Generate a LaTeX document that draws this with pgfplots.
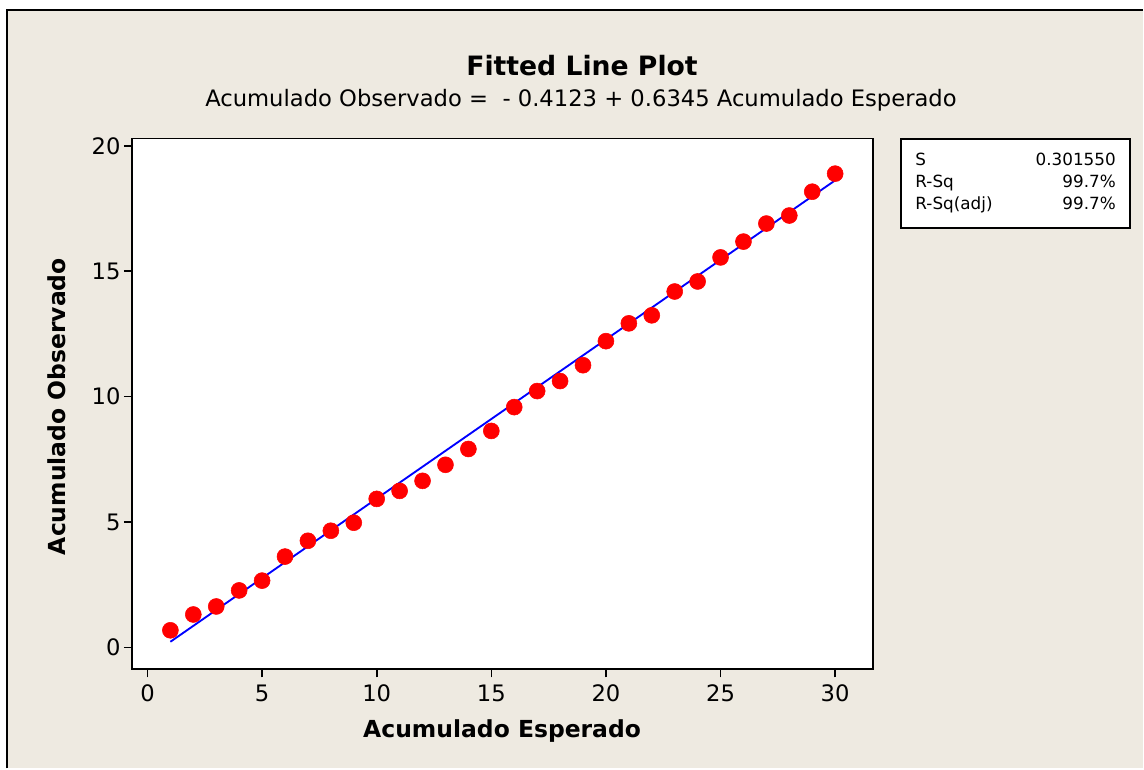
\documentclass[border=0pt]{standalone}
\usepackage{fontspec}
\setmainfont{DejaVu Sans}
\usepackage{pgfplots}
\pgfplotsset{compat=1.18}
\definecolor{bg}{RGB}{238,234,225}
\pgfplotstableread{
x y
1 0.68
2 1.31
3 1.63
4 2.27
5 2.66
6 3.62
7 4.25
8 4.65
9 4.97
10 5.92
11 6.24
12 6.64
13 7.28
14 7.91
15 8.63
16 9.58
17 10.22
18 10.62
19 11.25
20 12.21
21 12.92
22 13.24
23 14.19
24 14.59
25 15.55
26 16.18
27 16.90
28 17.22
29 18.17
30 18.89
}\datatable
\pgfplotstableread{
x y
1 0.2222
30 18.6227
}\fittable
\begin{document}
\begin{tikzpicture}
% background and frame
\fill[white] (0pt,0pt) rectangle (858pt,576.75pt);
\fill[bg] (5.25pt,0pt) rectangle (858pt,568.9pt);
\draw[line width=1.5pt,black] (5.6pt,0pt) -- (5.6pt,568.9pt) -- (858pt,568.9pt);
\begin{axis}[
  at={(99pt,74.25pt)}, anchor=south west,
  scale only axis, width=556.3pt, height=398.5pt,
  xmin=-0.68, xmax=31.65, ymin=-0.88, ymax=20.29,
  axis background/.style={fill=white},
  axis line style={line width=1.4pt, black},
  tick pos=left,
  tick align=outside,
  major tick length=6pt,
  every tick/.style={line width=1.2pt, black},
  xtick={0,5,...,30}, ytick={0,5,...,20},
  /pgf/number format/assume math mode=true,
  tick label style={font=\fontsize{17}{20}\selectfont},
  xticklabel style={yshift=-2pt},
  yticklabel style={xshift=1pt},
  clip=false,
]
\addplot[blue, line width=1.4pt] table[x=x,y=y] {\fittable};
\addplot[only marks, mark=*, mark size=6pt, mark options={fill=red, draw=red}] table[x=x,y=y] {\datatable};
\end{axis}
% titles
\node[font=\bfseries\fontsize{20}{24}\selectfont] at (436.9pt,527.25pt) {Fitted Line Plot};
\node[font=\fontsize{17}{20}\selectfont] at (436.1pt,501.75pt) {Acumulado Observado = \ - 0.4123 + 0.6345 Acumulado Esperado};
\node[font=\bfseries\fontsize{17.6}{22}\selectfont] at (376.9pt,27.75pt) {Acumulado Esperado};
\node[font=\bfseries\fontsize{17.6}{22}\selectfont, rotate=90] at (42.75pt,271.5pt) {Acumulado Observado};
% stats box
\draw[line width=1.3pt, fill=white] (676.5pt,472.5pt) rectangle (848.25pt,405.75pt);
\begin{scope}[every node/.style={font=\fontsize{12.6}{14}\selectfont, inner sep=0pt}]
\node[anchor=base west] at (687pt,452.25pt) {S};
\node[anchor=base east] at (837.75pt,452.25pt) {0.301550};
\node[anchor=base west] at (687pt,435.75pt) {R-Sq};
\node[anchor=base east] at (837.75pt,435.75pt) {99.7\%};
\node[anchor=base west] at (687pt,419.25pt) {R-Sq(adj)};
\node[anchor=base east] at (837.75pt,419.25pt) {99.7\%};
\end{scope}
\end{tikzpicture}
\end{document}
